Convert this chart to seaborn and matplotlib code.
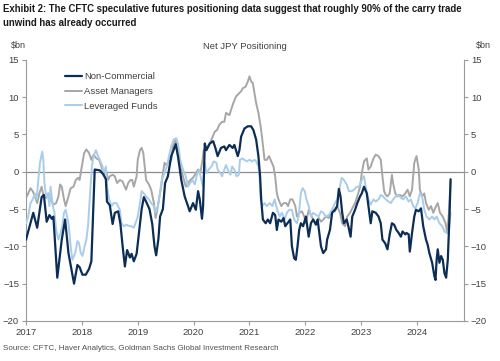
import pandas as pd
import matplotlib.pyplot as plt
import seaborn as sns

# Net JPY positioning, $bn (turning points)
nc_year = [2017.00, 2017.13, 2017.20, 2017.28, 2017.32, 2017.37, 2017.42, 2017.46, 2017.49, 2017.56,
           2017.64, 2017.70, 2017.76, 2017.86, 2017.92, 2017.96, 2018.01, 2018.07, 2018.13, 2018.17,
           2018.23, 2018.32, 2018.38, 2018.43, 2018.45, 2018.50, 2018.55, 2018.59, 2018.65, 2018.69,
           2018.73, 2018.77, 2018.81, 2018.86, 2018.89, 2018.93, 2018.98, 2019.01, 2019.07, 2019.11,
           2019.15, 2019.21, 2019.26, 2019.30, 2019.33, 2019.37, 2019.40, 2019.45, 2019.49, 2019.54,
           2019.60, 2019.68, 2019.72, 2019.78, 2019.84, 2019.90, 2019.93, 2019.99, 2020.04, 2020.08,
           2020.11, 2020.15, 2020.17, 2020.20, 2020.23, 2020.29, 2020.35, 2020.39, 2020.43, 2020.49,
           2020.55, 2020.58, 2020.64, 2020.70, 2020.73, 2020.79, 2020.82, 2020.85, 2020.91, 2020.97,
           2021.03, 2021.07, 2021.12, 2021.16, 2021.19, 2021.21, 2021.24, 2021.29, 2021.33, 2021.37,
           2021.42, 2021.46, 2021.49, 2021.52, 2021.57, 2021.61, 2021.64, 2021.68, 2021.73, 2021.76,
           2021.80, 2021.83, 2021.86, 2021.89, 2021.92, 2021.96, 2022.01, 2022.06, 2022.10, 2022.14,
           2022.19, 2022.22, 2022.25, 2022.28, 2022.32, 2022.37, 2022.39, 2022.44, 2022.48, 2022.53,
           2022.57, 2022.60, 2022.63, 2022.66, 2022.69, 2022.74, 2022.77, 2022.81, 2022.84, 2022.89,
           2022.93, 2022.98, 2023.01, 2023.05, 2023.10, 2023.13, 2023.17, 2023.20, 2023.26, 2023.31,
           2023.35, 2023.38, 2023.43, 2023.47, 2023.51, 2023.55, 2023.59, 2023.63, 2023.67, 2023.71,
           2023.74, 2023.79, 2023.81, 2023.85, 2023.87, 2023.91, 2023.95, 2023.98, 2024.03, 2024.07,
           2024.11, 2024.16, 2024.19, 2024.22, 2024.27, 2024.31, 2024.33, 2024.35, 2024.37, 2024.40,
           2024.43, 2024.46, 2024.49, 2024.52, 2024.55, 2024.58, 2024.60]
nc_val = [-9.1, -5.5, -7.5, -3.4, -3.1, -6.7, -5.8, -6.3, -6.0, -14.2,
          -9.1, -6.4, -10.9, -15.0, -12.5, -12.8, -13.8, -13.8, -13.0, -12.0,
          0.3, 0.2, -0.3, -1.0, -4.0, -4.5, -7.0, -5.5, -5.3, -7.0,
          -10.0, -12.7, -10.5, -11.5, -11.0, -12.0, -11.0, -9.0, -5.0, -3.4,
          -4.0, -5.0, -7.0, -10.0, -11.2, -9.0, -6.0, -5.0, -1.5, -0.6,
          2.1, 3.7, 2.1, -1.1, -3.3, -4.6, -5.3, -4.2, -5.1, -2.6,
          -3.7, -6.3, -4.6, 3.8, 2.9, 3.8, 4.1, 3.2, 2.1, 3.2,
          3.4, 2.9, 3.6, 3.2, 3.6, 2.1, 2.9, 4.7, 5.8, 6.1,
          6.1, 5.6, 4.3, 2.1, -0.6, -3.7, -6.4, -6.9, -6.4, -6.9,
          -5.5, -5.8, -7.8, -6.4, -6.7, -6.2, -7.3, -6.9, -6.4, -10.0,
          -11.6, -11.8, -10.0, -7.8, -6.9, -7.3, -6.0, -8.7, -6.9, -6.4,
          -7.1, -6.4, -8.2, -10.0, -10.9, -10.4, -9.1, -7.8, -5.5, -5.1,
          -4.6, -2.3, -3.3, -5.5, -6.9, -6.4, -7.3, -8.7, -6.0, -5.1,
          -4.2, -3.3, -2.9, -2.0, -2.9, -4.6, -6.9, -5.3, -5.5, -6.0,
          -6.9, -9.1, -9.6, -10.4, -8.4, -6.9, -7.1, -7.8, -8.2, -8.7,
          -8.0, -8.4, -8.2, -8.4, -10.7, -8.2, -6.0, -5.1, -5.3, -4.9,
          -7.3, -9.1, -9.8, -10.9, -12.2, -14.0, -14.5, -11.8, -10.4, -12.2,
          -11.3, -11.8, -13.6, -14.2, -11.8, -6.0, -1.0]

am_year = [2017.00, 2017.04, 2017.08, 2017.12, 2017.16, 2017.20, 2017.24, 2017.28, 2017.31, 2017.36,
           2017.40, 2017.44, 2017.49, 2017.54, 2017.58, 2017.61, 2017.64, 2017.68, 2017.71, 2017.76,
           2017.80, 2017.85, 2017.89, 2017.93, 2017.96, 2017.99, 2018.04, 2018.08, 2018.13, 2018.17,
           2018.21, 2018.26, 2018.31, 2018.35, 2018.39, 2018.43, 2018.47, 2018.50, 2018.55, 2018.59,
           2018.63, 2018.68, 2018.73, 2018.75, 2018.79, 2018.83, 2018.87, 2018.90, 2018.93, 2018.98,
           2019.00, 2019.04, 2019.07, 2019.10, 2019.13, 2019.15, 2019.20, 2019.24, 2019.29, 2019.32,
           2019.35, 2019.38, 2019.42, 2019.45, 2019.48, 2019.51, 2019.54, 2019.60, 2019.63, 2019.68,
           2019.72, 2019.76, 2019.81, 2019.86, 2019.90, 2019.94, 2019.99, 2020.04, 2020.08, 2020.12,
           2020.16, 2020.18, 2020.23, 2020.29, 2020.33, 2020.38, 2020.42, 2020.46, 2020.51, 2020.55,
           2020.58, 2020.64, 2020.67, 2020.71, 2020.76, 2020.81, 2020.85, 2020.88, 2020.93, 2020.97,
           2021.00, 2021.03, 2021.06, 2021.09, 2021.12, 2021.16, 2021.20, 2021.23, 2021.27, 2021.31,
           2021.35, 2021.39, 2021.43, 2021.46, 2021.49, 2021.52, 2021.57, 2021.61, 2021.66, 2021.69,
           2021.73, 2021.77, 2021.82, 2021.85, 2021.89, 2021.94, 2021.98, 2022.01, 2022.06, 2022.10,
           2022.14, 2022.19, 2022.24, 2022.28, 2022.32, 2022.37, 2022.42, 2022.48, 2022.53, 2022.57,
           2022.62, 2022.66, 2022.71, 2022.75, 2022.80, 2022.84, 2022.89, 2022.93, 2022.98, 2023.01,
           2023.05, 2023.10, 2023.13, 2023.17, 2023.22, 2023.26, 2023.31, 2023.35, 2023.38, 2023.41,
           2023.44, 2023.47, 2023.51, 2023.55, 2023.57, 2023.61, 2023.65, 2023.69, 2023.74, 2023.79,
           2023.83, 2023.87, 2023.91, 2023.95, 2023.99, 2024.03, 2024.05, 2024.09, 2024.13, 2024.16,
           2024.21, 2024.25, 2024.29, 2024.34, 2024.37, 2024.41, 2024.46, 2024.51, 2024.54, 2024.57,
           2024.60]
am_val = [-3.5, -2.9, -2.2, -2.6, -3.3, -4.2, -2.9, -2.0, -3.1, -3.5,
          -2.9, -3.7, -4.4, -4.2, -3.3, -1.7, -2.0, -3.7, -4.6, -3.3,
          -2.2, -2.0, -1.1, -0.8, -1.1, 0.3, 2.5, 3.0, 2.5, 1.6,
          2.3, 1.8, 1.6, 0.7, -0.4, 0.3, -1.1, -0.6, -0.4, -0.6,
          -1.5, -1.1, -1.3, -1.7, -2.4, -1.5, -1.1, -1.1, -2.0, -0.6,
          1.6, 2.9, 3.2, 2.5, 0.3, -1.1, -1.7, -2.4, -4.2, -6.2,
          -5.1, -3.7, -2.0, -0.2, 1.2, 0.9, 1.2, 1.6, 3.4, 4.3,
          2.1, 0.7, -0.6, -2.0, -1.5, -1.1, -0.8, -0.2, 0.3, -0.2,
          1.6, 2.9, 3.2, 3.8, 4.5, 5.4, 5.6, 6.3, 6.7, 6.7,
          7.9, 7.6, 8.3, 9.2, 10.1, 10.5, 10.8, 11.2, 11.4, 12.1,
          12.8, 12.1, 11.9, 10.5, 9.2, 7.9, 6.1, 4.3, 1.6, 1.6,
          2.1, 1.4, 0.7, -0.6, -2.9, -3.7, -4.6, -4.2, -4.2, -4.6,
          -3.7, -3.7, -4.6, -6.0, -5.5, -5.3, -6.0, -6.9, -5.1, -5.8,
          -6.4, -6.9, -6.2, -6.7, -6.4, -6.0, -6.2, -5.1, -5.3, -4.6,
          -5.5, -6.9, -7.3, -6.0, -5.5, -4.9, -4.2, -3.3, -2.0, -0.2,
          1.4, 1.8, 0.3, 0.7, 1.8, 2.3, 2.1, 1.6, -0.6, -2.6,
          -3.1, -3.3, -2.9, -0.4, -1.5, -2.9, -3.3, -3.1, -3.3, -2.9,
          -2.4, -3.3, -2.4, 1.2, 2.1, 0.3, -2.4, -3.3, -2.9, -4.2,
          -5.1, -4.6, -5.5, -4.6, -4.2, -5.5, -6.0, -6.9, -8.2, -5.5,
          -1.3]

lf_year = [2017.00, 2017.04, 2017.08, 2017.12, 2017.16, 2017.19, 2017.22, 2017.25, 2017.29, 2017.31,
           2017.33, 2017.36, 2017.39, 2017.42, 2017.44, 2017.48, 2017.51, 2017.54, 2017.58, 2017.62,
           2017.65, 2017.68, 2017.71, 2017.76, 2017.80, 2017.83, 2017.88, 2017.92, 2017.95, 2017.98,
           2018.01, 2018.05, 2018.08, 2018.11, 2018.14, 2018.18, 2018.21, 2018.25, 2018.29, 2018.32,
           2018.37, 2018.39, 2018.43, 2018.45, 2018.49, 2018.53, 2018.57, 2018.62, 2018.68, 2018.71,
           2018.75, 2018.80, 2018.85, 2018.89, 2018.93, 2018.96, 2019.00, 2019.04, 2019.07, 2019.11,
           2019.15, 2019.20, 2019.24, 2019.29, 2019.32, 2019.36, 2019.39, 2019.43, 2019.52, 2019.56,
           2019.60, 2019.64, 2019.69, 2019.72, 2019.76, 2019.81, 2019.86, 2019.90, 2019.94, 2019.98,
           2020.02, 2020.06, 2020.10, 2020.13, 2020.17, 2020.20, 2020.23, 2020.27, 2020.32, 2020.36,
           2020.41, 2020.43, 2020.48, 2020.51, 2020.55, 2020.58, 2020.61, 2020.66, 2020.69, 2020.73,
           2020.77, 2020.81, 2020.83, 2020.87, 2020.91, 2020.95, 2021.00, 2021.05, 2021.09, 2021.12,
           2021.16, 2021.18, 2021.20, 2021.23, 2021.27, 2021.31, 2021.36, 2021.41, 2021.45, 2021.49,
           2021.54, 2021.58, 2021.63, 2021.67, 2021.71, 2021.76, 2021.80, 2021.85, 2021.88, 2021.92,
           2021.95, 2021.99, 2022.02, 2022.06, 2022.10, 2022.14, 2022.19, 2022.24, 2022.28, 2022.32,
           2022.37, 2022.42, 2022.48, 2022.53, 2022.57, 2022.62, 2022.65, 2022.69, 2022.74, 2022.78,
           2022.83, 2022.87, 2022.92, 2022.96, 2023.01, 2023.05, 2023.08, 2023.13, 2023.17, 2023.22,
           2023.26, 2023.31, 2023.35, 2023.39, 2023.44, 2023.49, 2023.53, 2023.57, 2023.62, 2023.67,
           2023.71, 2023.75, 2023.80, 2023.85, 2023.89, 2023.93, 2023.97, 2024.01, 2024.05, 2024.09,
           2024.13, 2024.17, 2024.22, 2024.27, 2024.31, 2024.35, 2024.40, 2024.45, 2024.49, 2024.53,
           2024.57, 2024.60]
lf_val = [-6.9, -6.0, -4.2, -3.7, -2.9, -3.7, -1.1, 1.2, 2.7, 1.6,
          -1.5, -3.3, -2.9, -4.6, -2.0, -4.6, -5.5, -7.8, -9.1, -8.2,
          -7.3, -5.5, -5.1, -6.9, -10.0, -11.8, -10.9, -9.3, -9.6, -10.9,
          -11.3, -10.0, -9.1, -7.3, -3.7, 0.7, 2.1, 2.9, 2.1, 1.6,
          0.7, -0.2, 0.7, -2.0, -3.7, -4.6, -4.2, -4.2, -5.1, -6.9,
          -7.3, -7.1, -7.3, -7.3, -7.5, -6.9, -6.0, -4.2, -2.6, -2.9,
          -3.3, -3.7, -4.2, -4.6, -5.5, -4.6, -3.3, -1.1, 0.7, 2.1,
          3.4, 4.3, 4.5, 3.8, 1.6, 0.3, -0.6, -2.0, -1.5, -1.1,
          -1.7, -0.4, 0.3, -0.8, -2.0, 1.2, -0.2, 0.3, 0.7, 1.4,
          1.2, 0.3, -0.2, -0.6, 0.3, 0.9, 0.3, -0.4, 0.7, 0.3,
          -0.6, -0.4, 1.6, 1.8, 1.6, 1.4, 1.6, 1.4, 1.6, 1.4,
          0.7, -0.6, -3.7, -4.6, -4.2, -4.6, -4.2, -4.6, -3.7, -4.9,
          -6.0, -5.5, -6.4, -5.5, -5.1, -5.1, -6.4, -6.9, -6.0, -2.9,
          -2.2, -2.6, -3.7, -4.6, -6.0, -5.5, -5.8, -6.0, -5.3, -5.5,
          -6.0, -5.8, -5.1, -4.2, -3.7, -2.0, -0.8, -1.1, -1.7, -2.6,
          -2.6, -2.4, -2.0, -2.0, -1.1, -0.6, -2.0, -3.7, -4.4, -3.7,
          -4.0, -3.7, -3.1, -3.3, -3.7, -4.0, -4.2, -3.7, -3.3, -3.1,
          -3.5, -3.7, -3.3, -4.0, -3.7, -4.6, -4.9, -4.2, -2.9, -3.3,
          -5.1, -6.0, -6.4, -6.0, -6.4, -6.0, -6.9, -7.3, -8.0, -8.2,
          -7.8, -5.5]

years = [2017, 2018, 2019, 2020, 2021, 2022, 2023, 2024]
yticks = [15, 10, 5, 0, -5, -10, -15, -20]

navy = "#0c2d55"
grey = "#a6a6a6"
light = "#a9cde9"
axis_grey = "#9a9a9a"
txt = "#404040"

sns.set_style("white")
plt.rcParams["font.family"] = ["Liberation Sans", "DejaVu Sans"]

df_nc = pd.DataFrame({"year": nc_year, "val": nc_val})
df_am = pd.DataFrame({"year": am_year, "val": am_val})
df_lf = pd.DataFrame({"year": lf_year, "val": lf_val})

fig = plt.figure(figsize=(5.0, 3.61), dpi=100)
ax = fig.add_axes([0.052, 0.111, 0.876, 0.723])

ax.axhline(0, color="#8c8c8c", lw=0.9, zorder=1)
sns.lineplot(data=df_am, x="year", y="val", color=grey, lw=1.4, estimator=None, sort=False, ax=ax, zorder=2)
sns.lineplot(data=df_lf, x="year", y="val", color=light, lw=1.4, estimator=None, sort=False, ax=ax, zorder=3)
sns.lineplot(data=df_nc, x="year", y="val", color=navy, lw=1.6, estimator=None, sort=False, ax=ax, zorder=4)

ax.set_xlim(2017, 2024.84)
ax.set_ylim(-20, 15)
ax.set_xticks(years)
ax.set_xticklabels([str(y) for y in years])
ax.set_yticks(yticks)
ax.set_xlabel("")
ax.set_ylabel("")

for side in ["left", "right", "bottom"]:
    ax.spines[side].set_color(axis_grey)
    ax.spines[side].set_linewidth(0.8)
ax.spines["top"].set_visible(False)

ax.tick_params(axis="y", left=True, right=True, labelleft=True, labelright=True,
               direction="out", length=3, width=0.8, color=axis_grey, labelsize=6.8,
               labelcolor=txt, pad=2)
ax.tick_params(axis="x", bottom=True, direction="out", length=3, width=0.8, color=axis_grey,
               labelsize=6.8, labelcolor=txt, pad=2)

handles = [plt.Line2D([], [], color=navy, lw=1.6),
           plt.Line2D([], [], color=grey, lw=1.4),
           plt.Line2D([], [], color=light, lw=1.4)]
ax.legend(handles, ["Non-Commercial", "Asset Managers", "Leveraged Funds"],
          loc="upper left", bbox_to_anchor=(0.07, 0.985), frameon=False, fontsize=6.8,
          handlelength=1.8, handletextpad=0.2, labelspacing=0.6, labelcolor=txt)

fig.text(0.006, 0.99, "Exhibit 2: The CFTC speculative futures positioning data suggest that roughly 90% of the carry trade\nunwind has already occurred",
         ha="left", va="top", fontsize=6.9, fontweight="bold", color="#1a1a1a",
         linespacing=1.5)
fig.text(0.49, 0.872, "Net JPY Positioning", ha="center", va="center", fontsize=6.8, color=txt)
fig.text(0.022, 0.875, "$bn", ha="left", va="center", fontsize=6.5, color=txt)
fig.text(0.952, 0.875, "$bn", ha="left", va="center", fontsize=6.5, color=txt)
fig.text(0.006, 0.025, "Source: CFTC, Haver Analytics, Goldman Sachs Global Investment Research",
         ha="left", va="bottom", fontsize=5.8, color="#505050")

fig.savefig("out.png", dpi=100)
